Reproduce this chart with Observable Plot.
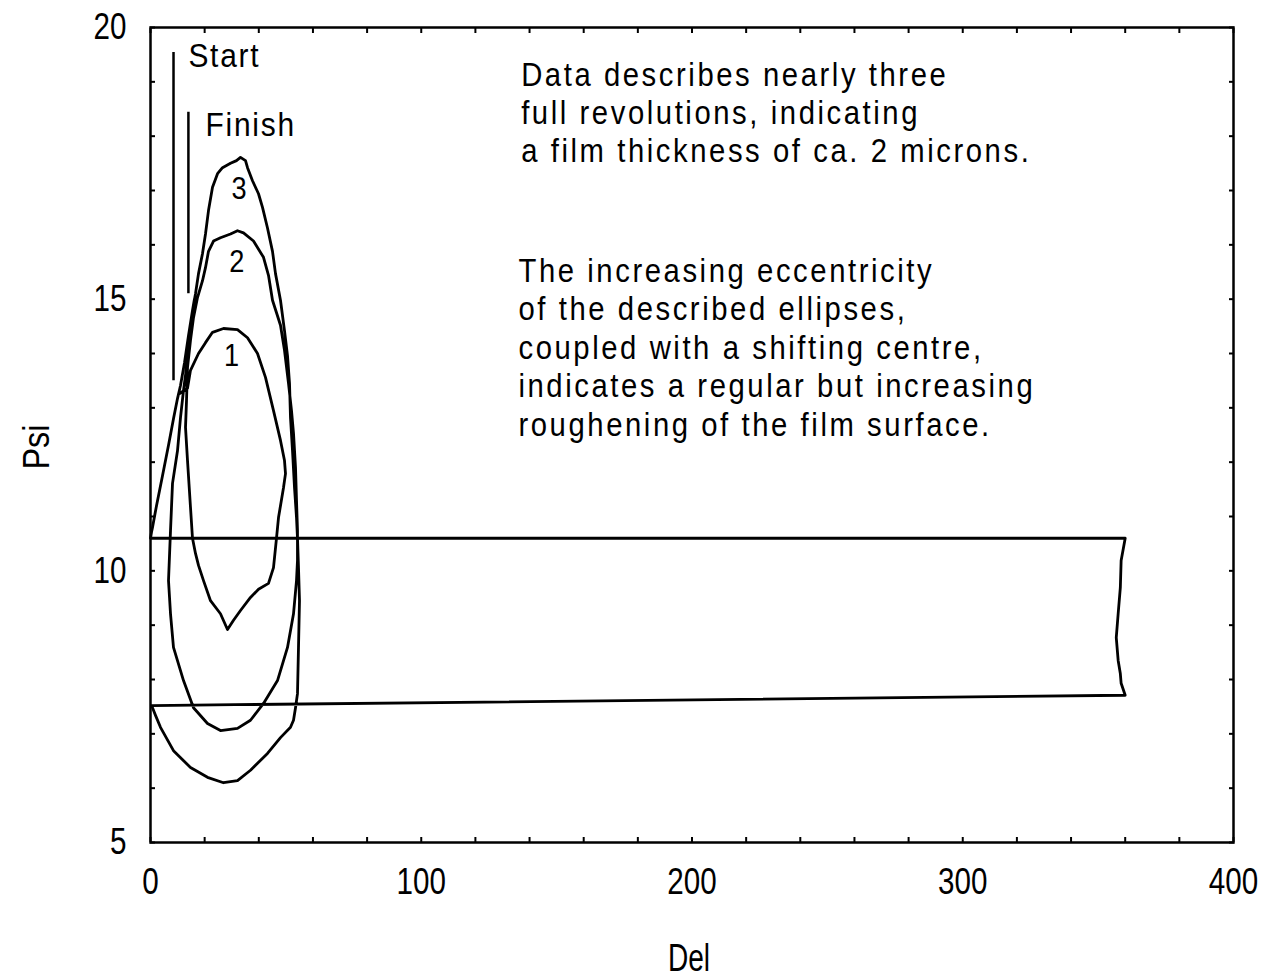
<!DOCTYPE html>
<html>
<head>
<meta charset="utf-8">
<script src="https://cdn.jsdelivr.net/npm/d3@7"></script>
<script src="https://cdn.jsdelivr.net/npm/@observablehq/plot@0.6"></script>
<style>
  html, body { margin: 0; padding: 0; background: #fff; }
  #chart svg { display: block; }
</style>
</head>
<body>
<div id="chart"></div>
<script>
// ---- Trajectory (Del, Psi), in drawing order ----
// Revolution 1 (innermost loop, cusp at bottom)
const loop1Del = [10.34, 13.67, 14.77, 17.73, 20.31, 22.90, 26.96, 32.13, 35.83, 39.52, 42.47, 45.43, 48.01, 49.49, 49.86, 49.12, 47.28, 46.54, 45.43, 43.58, 39.89, 36.93, 33.24, 30.66, 28.44, 25.85, 22.16, 19.58, 17.73, 16.62, 15.51, 14.77, 13.67, 12.93, 13.30];
const loop1Psi = [13.25, 13.36, 13.69, 14.00, 14.20, 14.39, 14.46, 14.44, 14.29, 14.00, 13.56, 12.95, 12.40, 12.03, 11.79, 11.53, 10.98, 10.60, 10.06, 9.77, 9.66, 9.51, 9.27, 9.09, 8.92, 9.21, 9.45, 9.82, 10.10, 10.32, 10.60, 11.17, 12.03, 12.64, 13.13];
// Revolution 2
const loop2Del = [13.67, 14.77, 15.88, 17.36, 19.21, 20.31, 21.42, 23.27, 25.85, 29.55, 32.13, 34.35, 38.04, 41.74, 43.58, 45.06, 46.54, 48.01, 49.49, 50.97, 52.08, 52.82, 53.56, 53.93, 54.29, 54.29, 53.93, 52.82, 50.60, 46.91, 41.74, 36.93, 32.13, 25.85, 21.05, 15.88, 12.19, 8.49, 7.39, 6.65, 7.39, 8.13, 9.97, 11.08, 12.19];
const loop2Psi = [13.74, 14.24, 14.66, 15.03, 15.34, 15.58, 15.88, 16.07, 16.13, 16.20, 16.26, 16.22, 16.07, 15.77, 15.44, 14.98, 14.75, 14.52, 14.06, 13.45, 12.95, 12.53, 11.90, 11.29, 10.74, 10.19, 9.82, 9.21, 8.59, 7.98, 7.56, 7.25, 7.10, 7.06, 7.19, 7.48, 7.98, 8.59, 9.21, 9.82, 10.74, 11.61, 12.21, 12.82, 13.32];
// Revolution 3 (outermost loop, runs out to Del = 0)
const loop3Del = [13.30, 14.40, 15.51, 16.62, 17.73, 19.21, 20.31, 21.42, 22.90, 24.75, 26.59, 29.55, 31.76, 33.24, 35.09, 35.83, 37.67, 39.89, 41.37, 43.21, 45.06, 46.17, 48.01, 49.49, 50.60, 51.34, 51.71, 52.45, 53.19, 53.93, 54.29, 54.66, 55.03, 54.66, 54.29, 53.56, 52.82, 51.71, 48.01, 43.21, 36.93, 32.13, 26.96, 21.05, 14.77, 8.49, 3.69, 1.85, 0.74, 0.37];
const loop3Psi = [13.74, 14.24, 14.79, 15.10, 15.47, 15.84, 16.20, 16.63, 17.06, 17.31, 17.42, 17.50, 17.55, 17.61, 17.55, 17.42, 17.18, 16.94, 16.69, 16.31, 15.88, 15.47, 14.98, 14.42, 13.96, 13.45, 12.82, 12.21, 11.53, 10.98, 10.60, 10.06, 9.45, 8.59, 7.74, 7.48, 7.25, 7.12, 6.93, 6.64, 6.33, 6.14, 6.10, 6.20, 6.38, 6.69, 7.12, 7.34, 7.48, 7.52];
// Wrapped section (Del just below 360)
const wrapDel = [360.0, 358.5, 358.2, 357.4, 356.7, 357.4, 358.2, 358.5, 360.0];
const wrapPsi = [7.71, 7.93, 8.11, 8.35, 8.77, 9.21, 9.69, 10.19, 10.60];
// Final leg back from Del = 0 to the finish
const finishDel = [0.00, 0.37, 0.74, 2.22, 4.43, 6.65, 8.49, 9.97, 11.08, 12.56, 14.04, 15.51, 16.25];
const finishPsi = [10.60, 10.71, 10.80, 11.20, 11.75, 12.31, 12.80, 13.17, 13.41, 13.83, 14.33, 14.79, 15.01];

// ---- Axis ticks ----
const delLabels = [0, 100, 200, 300, 400];
const psiLabels = [5, 10, 15, 20];
const delMinor = d3.range(0, 401, 20);
const psiMinor = d3.range(5, 21, 1);

// ---- Annotations ----
const pointers = [
  {name: "Start", del: 8.5, psiTop: 19.54, psiBottom: 13.50, labelDel: 14.0, labelPsi: 19.47},
  {name: "Finish", del: 14.0, psiTop: 18.44, psiBottom: 15.10, labelDel: 20.3, labelPsi: 18.21}
];
const loopLabels = [
  {text: "1", del: 29.9, psi: 13.96},
  {text: "2", del: 31.9, psi: 15.68},
  {text: "3", del: 32.7, psi: 17.04}
];
const notes = [
  {text: "Data describes nearly three\nfull revolutions, indicating\na film thickness of ca. 2 microns.", del: 136.9, psi: 18.45},
  {text: "The increasing eccentricity\nof the described ellipses,\ncoupled with a shifting centre,\nindicates a regular but increasing\nroughening of the film surface.", del: 135.9, psi: 14.13}
];
const axisTitles = {x: "Del", y: "Psi"};

// Build the table for the line from the named arrays
const segments = [[loop1Del, loop1Psi], [loop2Del, loop2Psi], [loop3Del, loop3Psi], [wrapDel, wrapPsi], [finishDel, finishPsi]];
const trajectory = segments.flatMap(([ds, ps]) => ds.map((d, i) => ({del: d, psi: ps[i]})));

const font = '"Liberation Sans", Arial, sans-serif';

const chart = Plot.plot({
  width: 1264,
  height: 977,
  marginLeft: 150,
  marginRight: 31,
  marginTop: 27,
  marginBottom: 135,
  style: {fontFamily: font, background: "white", color: "black", overflow: "visible"},
  x: {domain: [0, 400]},
  y: {domain: [5, 20]},
  marks: [
    // minor inward ticks on all four sides
    Plot.axisX(delMinor, {anchor: "bottom", tickSize: -5, strokeWidth: 2, tickFormat: () => "", label: null}),
    Plot.axisX(delMinor, {anchor: "top", tickSize: -5, strokeWidth: 2, tickFormat: () => "", label: null}),
    Plot.axisY(psiMinor, {anchor: "left", tickSize: -5, strokeWidth: 2, tickFormat: () => "", label: null}),
    Plot.axisY(psiMinor, {anchor: "right", tickSize: -5, strokeWidth: 2, tickFormat: () => "", label: null}),
    // tick labels
    Plot.axisX(delLabels, {anchor: "bottom", tickSize: 0, tickPadding: 25, fontSize: 37, label: null, tickFormat: d3.format("d")}),
    Plot.axisY(psiLabels, {anchor: "left", tickSize: 0, tickPadding: 24, fontSize: 37, label: null, tickFormat: d3.format("d")}),
    Plot.frame({stroke: "black", strokeWidth: 2.5}),
    // the trajectory
    Plot.line(trajectory, {x: "del", y: "psi", stroke: "black", strokeWidth: 2.8, strokeLinejoin: "round", strokeLinecap: "round"}),
    // Start / Finish pointers
    Plot.ruleX(pointers, {x: "del", y1: "psiBottom", y2: "psiTop", stroke: "black", strokeWidth: 2.5}),
    Plot.text(pointers, {x: "labelDel", y: "labelPsi", text: "name", textAnchor: "start", fontSize: 34, fill: "black"}),
    // revolution numbers
    Plot.text(loopLabels, {x: "del", y: "psi", text: "text", fontSize: 32, fill: "black"}),
    // notes
    Plot.text(notes, {x: "del", y: "psi", text: "text", textAnchor: "start", lineAnchor: "middle", lineHeight: 1.13, fontSize: 34, fill: "black"}),
    // axis titles
    Plot.text([axisTitles.x], {frameAnchor: "bottom", lineAnchor: "middle", textAnchor: "middle", dy: 116, dx: -3, fontSize: 39, fill: "black"}),
    Plot.text([axisTitles.y], {frameAnchor: "left", lineAnchor: "middle", textAnchor: "middle", dx: -113, dy: 12, rotate: -90, fontSize: 36, fill: "black"})
  ]
});

document.getElementById("chart").appendChild(chart);

// ---- Typographic adjustment: the original uses a narrow, tracked face ----
function squeeze(node, factor) {
  const len = node.getComputedTextLength();
  if (len > 0) {
    node.setAttribute("textLength", (len * factor).toFixed(1));
    node.setAttribute("lengthAdjust", "spacingAndGlyphs");
  }
}
const tickStrings = new Set([...delLabels, ...psiLabels].map(String));
chart.querySelectorAll("text").forEach(t => {
  const tspans = t.querySelectorAll("tspan");
  const content = t.textContent;
  const parentLabel = (t.parentNode && t.parentNode.getAttribute("aria-label")) || "";
  if (tspans.length > 1) {
    // note blocks: narrow glyphs with wide tracking
    t.style.letterSpacing = "3px";
    tspans.forEach(s => squeeze(s, 0.86));
  } else if (parentLabel.includes("axis") && tickStrings.has(content)) {
    squeeze(t, 0.8);
  } else if (content === axisTitles.x) {
    squeeze(t, 0.72);
  } else if (content === axisTitles.y) {
    squeeze(t, 0.9);
  } else if (content === "Start" || content === "Finish") {
    t.style.letterSpacing = "2px";
    squeeze(t, 0.88);
  } else if (/^[123]$/.test(content)) {
    squeeze(t, 0.85);
  }
});
</script>
</body>
</html>
